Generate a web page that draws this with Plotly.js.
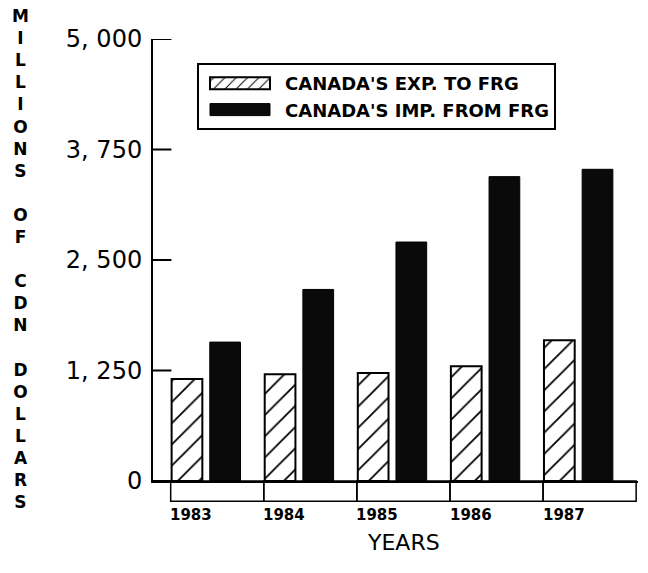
<!DOCTYPE html>
<html>
<head>
<meta charset="utf-8">
<script src="https://cdn.plot.ly/plotly-3.0.1.min.js"></script>
<style>html,body{margin:0;padding:0;background:#fff;}#chart{width:648px;height:573px;}</style>
</head>
<body>
<div id="chart"></div>
<script>
const years = ['1983', '1984', '1985', '1986', '1987'];
const exportsToFRG = [1155, 1208, 1223, 1299, 1593];
const importsFromFRG = [1571, 2167, 2703, 3443, 3526];
const seriesNames = ["CANADA'S EXP. TO FRG", "CANADA'S IMP. FROM FRG"];
const yTickVals = [0, 1250, 2500, 3750, 5000];
const yTickText = ['0', '1, 250', '2, 500', '3, 750', '5, 000'];
const yTitle = 'MILLIONS OF CDN DOLLARS';
const xTitle = 'YEARS';

const traces = [
  {
    type: 'bar', name: seriesNames[0], x: years, y: exportsToFRG,
    width: 0.33, offset: -0.49,
    marker: {color: 'white', line: {color: 'black', width: 2},
             pattern: {shape: '/', fgcolor: 'black', bgcolor: 'white', size: 15, solidity: 0.12}}
  },
  {
    type: 'bar', name: seriesNames[1], x: years, y: importsFromFRG,
    width: 0.33, offset: -0.08,
    marker: {color: '#0a0a0a', line: {color: 'black', width: 1}}
  }
];

const shapes = years.map((yr, i) => ({
  type: 'rect', xref: 'x', yref: 'paper', x0: i - 0.5, x1: i + 0.5, y0: -0.046, y1: 0,
  line: {color: 'black', width: 1.5}, fillcolor: 'rgba(0,0,0,0)'
}));
yTickVals.forEach(v => shapes.push({
  type: 'line', xref: 'paper', yref: 'y', x0: 0, x1: 0.038, y0: v, y1: v,
  line: {color: 'black', width: 2}
}));

const annotations = years.map((yr, i) => ({
  x: i, xref: 'x', y: -0.077, yref: 'paper', xanchor: 'left', yanchor: 'middle',
  xshift: -49, text: yr, showarrow: false,
  font: {family: 'DejaVu Sans', size: 15, color: 'black', weight: 'bold'}
}));
annotations.push({
  x: -0.274, xref: 'paper', y: 0.502, yref: 'paper', xanchor: 'center', yanchor: 'middle',
  text: yTitle.split(' ').map(w => w.split('').join('<br>')).join('<br> <br>'),
  showarrow: false, align: 'center',
  font: {family: 'DejaVu Sans', size: 17, color: 'black', weight: 'bold'}
});
annotations.push({
  x: 0.5175, xref: 'paper', y: -0.14, yref: 'paper', xanchor: 'center', yanchor: 'middle',
  text: xTitle, showarrow: false,
  font: {family: 'DejaVu Sans', size: 22, color: 'black'}
});

const layout = {
  width: 648, height: 573,
  margin: {l: 153, r: 10, t: 39, b: 92},
  paper_bgcolor: 'white', plot_bgcolor: 'white',
  showlegend: true,
  legend: {x: 0.0907, y: 0.9457, xanchor: 'left', yanchor: 'top',
           bgcolor: 'white', bordercolor: 'black', borderwidth: 2,
           font: {family: 'DejaVu Sans', size: 18, color: 'black', weight: 'bold'},
           itemwidth: 76, tracegroupgap: 0},
  xaxis: {type: 'category', range: [-0.69, 4.52], showticklabels: false, ticks: '',
          showgrid: false, zeroline: false, showline: true, linecolor: 'black', linewidth: 2},
  yaxis: {range: [0, 5000], tickvals: yTickVals, ticktext: yTickText, ticks: '',
          showgrid: false, zeroline: false, ticklabelstandoff: 4,
          showline: true, linecolor: 'black', linewidth: 2,
          tickfont: {family: 'DejaVu Sans', size: 24, color: 'black'}},
  shapes: shapes,
  annotations: annotations
};

Plotly.newPlot('chart', traces, layout, {displayModeBar: false, staticPlot: true}).then(gd => {
  // widen legend swatches to match the long plotter-style keys
  gd.querySelectorAll('.legend .traces .legendpoints path').forEach(p => {
    p.setAttribute('d', 'M-32,6H28V-6H-32Z');
  });
});
</script>
</body>
</html>
